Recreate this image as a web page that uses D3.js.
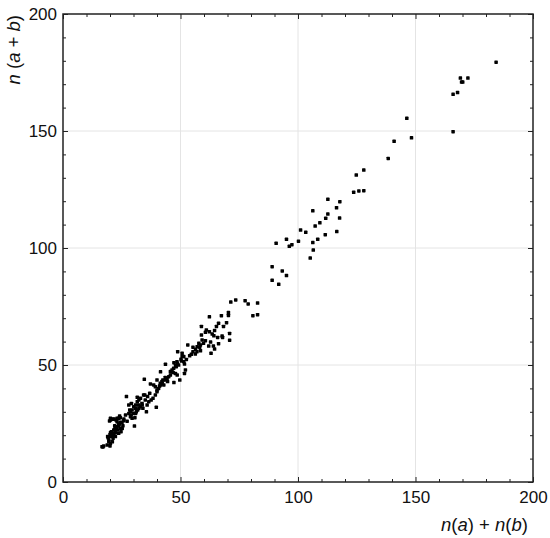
<!DOCTYPE html>
<html>
<head>
<meta charset="utf-8">
<script src="https://cdn.jsdelivr.net/npm/d3@7"></script>
<style>
    body { margin: 0; background: #fff; }
    svg { display: block; }
    .tick text { font-family: "Liberation Sans", Arial, sans-serif; font-size: 17px; fill: #111; }
</style>
</head>
<body>
<svg width="550" height="538"></svg>
<script>
// n(a) + n(b) vs n(a + b)
const points = [
    [17,15],[17.3,15.4],[16.6,15.1],[18.8,15.8],[20,15.4],[20.2,16.5],[19.5,17.2],[19.5,18],[21,17.2],[19.2,18.9],
    [21.3,18.7],[19,19.4],[20.2,19.4],[21.6,19.7],[22.3,19.4],[20,20.2],[20.9,20.1],[23.7,20.8],[20.2,21],[21.6,20.8],
    [22.3,21.1],[24.7,21.5],[20.6,21.5],[21.6,22.2],[23.3,22.2],[22,22.5],[22.3,22.9],[25.2,22.9],[24.4,23],[22.7,23.4],
    [23,23.6],[22,24],[23.7,24],[25.5,24],[30.4,23.9],[23.7,24.6],[24.1,24.8],[25.1,25.4],[24.4,25.5],[23,25.8],
    [19.8,26.1],[27.3,26],[25.9,26.2],[20.2,26.5],[22.6,26.5],[21.3,26.8],[21.6,26.9],[25.9,26.9],[23,27.2],[20.2,27.2],
    [23.7,27.2],[29.4,27.2],[24.4,27.5],[30.6,27.5],[28.7,27.9],[24.1,28.2],[26.6,28.6],[29,28.6],[28,29.3],[30.1,29.3],
    [30.9,29.3],[28.7,30],[31.2,30],[35.5,30],[28.4,30.8],[29.4,30.8],[31.8,30.8],[32.3,31.5],[30.8,31.5],[34,31.5],
    [39.7,31.9],[30.1,32.2],[32.9,32.2],[28,32.9],[30.9,32.9],[32.2,32.9],[33.7,32.9],[35.8,32.9],[29.1,33.6],[33.6,33.6],
    [31.6,34.3],[36.5,34.3],[32.3,35],[35,35],[37.5,35],[33,35.8],[38.3,35.8],[31.6,36.2],[27,36.5],[36,36.5],
    [34.8,37.2],[34.3,37.2],[39.3,37.2],[36.9,37.9],[40,38.6],
    [37.2,41.9],[38.6,41.5],[39.3,40.7],[40.7,40],[40,39.3],[41.1,41],[41.5,41.5],[42.2,42.2],[42.9,41.5],[41.4,42.2],
    [42.1,42.9],[42.5,43.6],[43.6,43.6],[40,43.6],[43.9,43.9],[44.5,42.9],[47.2,42.5],[49.7,43.6],[34.6,43.9],[44.3,44.3],
    [43.5,44.7],[45,45],[45.7,45.7],[48.6,45.7],[47.8,46.4],[46,47.1],[41.5,47.1],[45.7,47.2],[46.9,46.8],[51.7,46.4],
    [46.4,47.9],[47.1,48.6],[52.1,47.9],[48.2,49.3],[47.9,49.8],[49.2,50],[43.6,50.3],[48.6,50.7],[51.7,50.4],[47.2,51],
    [50.4,51.7],[48.5,51.4],[51.4,51.4],[52.5,52.4],[50.2,52.5],[50.7,53.6],[51.4,53.6],[53.9,53.9],[54.6,54.6],[56.3,54.7],
    [50.7,55],[55.3,55.7],[48.8,55.7],[57,55.7],[63,55],[58.5,56.1],[56.4,56.7],[64.5,56.8],[57.1,57.8],[58.2,57.6],
    [55.3,57.6],[62,58.1],[64,58.1],[53.1,58.6],[58.5,58.6],[59.8,59.3],[66.2,59.1],[57.8,59.3],[62.8,59.8],[60.6,60.4],
    [59.2,60.7],[70.9,60.6],[67.9,61.8],[65.8,61.8],[64.2,62.5],[67.7,62.4],[58.9,62.8],[63.5,63.2],[70.9,63.5],[60.6,64],
    [62.3,64.2],[64.5,64.7],[61,65],[58.9,66.5],[65.3,66.5],[68.3,66.5],[66.2,67.8],[69.6,68.1],[62.3,70.6],[67.4,71.1],
    [70.4,71.2],[70.4,72.4],
    [71.4,76.9],[73.5,77.8],[77.5,77.5],[78.8,76.1],[82.8,76.5],[80.8,71.1],[82.8,71.5],
    [89,92],[93.3,90.2],[95.1,88.2],[89,86.2],[91.8,84.5],
    [90.7,102],[95.1,103.7],[97.4,101.4],[96.3,100.7],[100.2,102.9],[101.1,107.7],[103.3,106.7],[106.3,102.3],[108.4,103.7],[106.5,99.1],
    [105.2,95.7],[111.6,105.7],[116.5,107],[109.3,110.8],[107.3,109.4],[111.8,112.7],[117.7,112.8],[112.7,114.5],[106.3,115.9],[116.4,117.2],
    [117.8,119.8],[112.7,120.8],
    [123.7,123.8],[125.9,124.4],[128,124.5],[124.8,131.2],[128,133.3],[138.4,138.3],
    [140.9,145.6],[148.3,147.1],[146.3,155.4],[166,149.7],[166,165.7],[167.9,166.4],[169.6,170.9],[170.1,170.9],[169.1,172.6],[172.3,172.6],
    [184.3,179.4]
];
const majorTicks = [0, 50, 100, 150, 200];
const minorTicks = d3.range(0, 201, 10).filter(v => v % 50 !== 0);
const gridLines = [50, 100, 150];

const plotLeft = 63, plotRight = 533, plotTop = 14, plotBottom = 482;
const svg = d3.select("svg");

let x = d3.scaleLinear().domain([0, 200]).range([plotLeft, plotRight]);
let y = d3.scaleLinear().domain([0, 200]).range([plotBottom, plotTop]);

// grid
svg.append("g").selectAll("line")
    .data(gridLines)
    .join("line")
    .attr("x1", d => x(d)).attr("x2", d => x(d))
    .attr("y1", plotTop).attr("y2", plotBottom)
    .attr("stroke", "#e4e4e4");
svg.append("g").selectAll("line")
    .data(gridLines)
    .join("line")
    .attr("y1", d => y(d)).attr("y2", d => y(d))
    .attr("x1", plotLeft).attr("x2", plotRight)
    .attr("stroke", "#e4e4e4");

// axes, ticks inside on all four sides
function addAxis(axis, tx, ty, labels) {
    let g = svg.append("g").attr("transform", `translate(${tx},${ty})`).call(axis);
    g.select(".domain").remove();
    g.selectAll(".tick line").attr("stroke", "#222").attr("stroke-width", 1);
    if (!labels) g.selectAll(".tick text").remove();
    return g;
}
addAxis(d3.axisBottom(x).tickValues(majorTicks).tickSize(-5).tickPadding(9), 0, plotBottom, true);
addAxis(d3.axisLeft(y).tickValues(majorTicks).tickSize(-5).tickPadding(6), plotLeft, 0, true);
addAxis(d3.axisTop(x).tickValues(majorTicks).tickSize(-5), 0, plotTop, false);
addAxis(d3.axisRight(y).tickValues(majorTicks).tickSize(-5), plotRight, 0, false);
addAxis(d3.axisBottom(x).tickValues(minorTicks).tickSize(-3), 0, plotBottom, false);
addAxis(d3.axisLeft(y).tickValues(minorTicks).tickSize(-3), plotLeft, 0, false);
addAxis(d3.axisTop(x).tickValues(minorTicks).tickSize(-3), 0, plotTop, false);
addAxis(d3.axisRight(y).tickValues(minorTicks).tickSize(-3), plotRight, 0, false);

// frame
svg.append("rect")
    .attr("x", plotLeft).attr("y", plotTop)
    .attr("width", plotRight - plotLeft).attr("height", plotBottom - plotTop)
    .attr("fill", "none")
    .attr("stroke", "#222")
    .attr("stroke-width", 1.5);

// points
svg.append("g").selectAll("rect")
    .data(points)
    .join("rect")
    .attr("x", d => x(d[0]) - 1.75)
    .attr("y", d => y(d[1]) - 1.75)
    .attr("width", 3.5).attr("height", 3.5)
    .attr("rx", 0.6)
    .attr("fill", "#000");

// axis titles
let font = "'Liberation Sans', Arial, sans-serif";
let xt = svg.append("text")
    .attr("x", 528).attr("y", 531)
    .attr("text-anchor", "end")
    .style("font-family", font).style("font-size", "18.5px").attr("fill", "#111");
xt.append("tspan").attr("font-style", "italic").text("n");
xt.append("tspan").text("(");
xt.append("tspan").attr("font-style", "italic").text("a");
xt.append("tspan").text(") + ");
xt.append("tspan").attr("font-style", "italic").text("n");
xt.append("tspan").text("(");
xt.append("tspan").attr("font-style", "italic").text("b");
xt.append("tspan").text(")");

let yt = svg.append("text")
    .attr("transform", "translate(20,15) rotate(-90)")
    .attr("text-anchor", "end")
    .style("font-family", font).style("font-size", "18.5px").attr("fill", "#111");
yt.append("tspan").attr("font-style", "italic").text("n");
yt.append("tspan").text(" (");
yt.append("tspan").attr("font-style", "italic").text("a");
yt.append("tspan").text(" + ");
yt.append("tspan").attr("font-style", "italic").text("b");
yt.append("tspan").text(")");
</script>
</body>
</html>
